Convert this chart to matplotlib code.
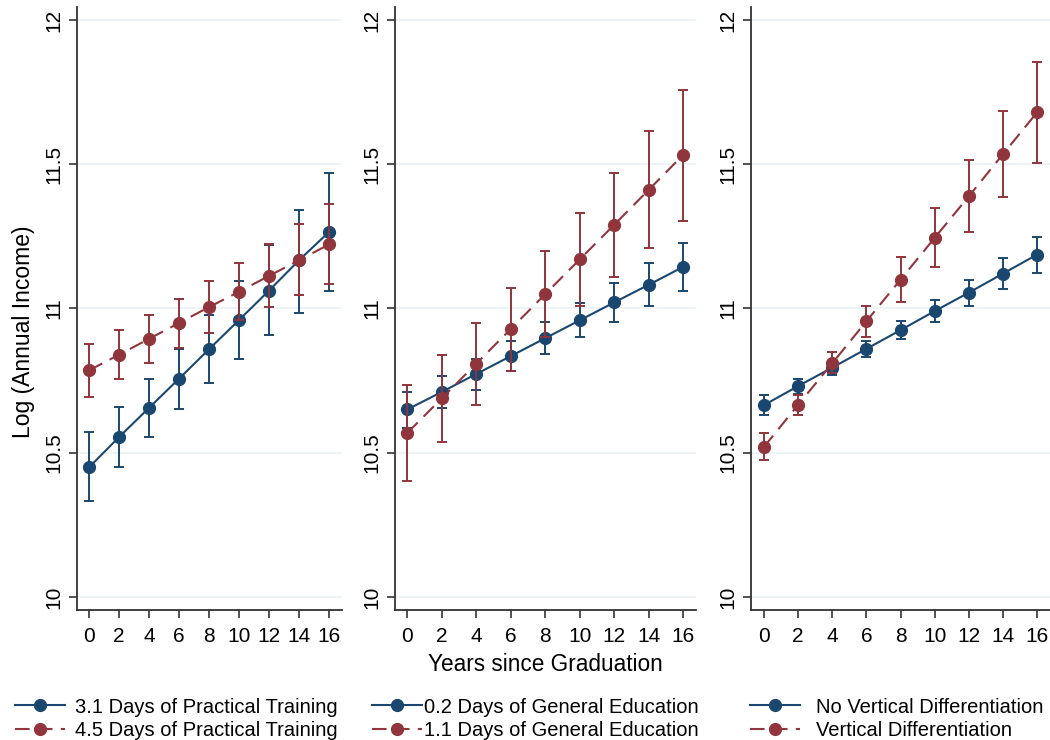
import matplotlib
matplotlib.use('Agg')
import matplotlib.pyplot as plt

plt.rcParams['font.family'] = ['Liberation Sans', 'DejaVu Sans']

years = [0, 2, 4, 6, 8, 10, 12, 14, 16]

# panel 1: practical training
p1_blue = [10.45, 10.555, 10.656, 10.757, 10.859, 10.96, 11.062, 11.167, 11.265]
p1_blue_lo = [10.333, 10.449, 10.556, 10.653, 10.743, 10.826, 10.907, 10.986, 11.062]
p1_blue_hi = [10.573, 10.66, 10.757, 10.861, 10.976, 11.095, 11.22, 11.34, 11.468]
p1_red = [10.786, 10.84, 10.895, 10.95, 11.005, 11.058, 11.113, 11.167, 11.222]
p1_red_lo = [10.693, 10.755, 10.811, 10.864, 10.914, 10.96, 11.005, 11.045, 11.084]
p1_red_hi = [10.876, 10.924, 10.977, 11.034, 11.094, 11.157, 11.222, 11.292, 11.362]

# panel 2: general education
p2_blue = [10.65, 10.711, 10.773, 10.835, 10.897, 10.959, 11.021, 11.082, 11.144]
p2_blue_lo = [10.587, 10.655, 10.719, 10.782, 10.842, 10.9, 10.952, 11.008, 11.062]
p2_blue_hi = [10.709, 10.766, 10.824, 10.888, 10.952, 11.018, 11.087, 11.157, 11.226]
p2_red = [10.569, 10.689, 10.809, 10.929, 11.05, 11.17, 11.29, 11.411, 11.532]
p2_red_lo = [10.402, 10.537, 10.667, 10.784, 10.902, 11.008, 11.11, 11.208, 11.304]
p2_red_hi = [10.736, 10.84, 10.951, 11.071, 11.198, 11.331, 11.47, 11.614, 11.758]

# panel 3: vertical differentiation
p3_blue = [10.665, 10.731, 10.795, 10.86, 10.925, 10.991, 11.055, 11.121, 11.187]
p3_blue_lo = [10.63, 10.705, 10.77, 10.832, 10.895, 10.952, 11.009, 11.067, 11.123]
p3_blue_hi = [10.699, 10.757, 10.818, 10.886, 10.955, 11.028, 11.1, 11.174, 11.248]
p3_red = [10.52, 10.666, 10.81, 10.956, 11.1, 11.245, 11.389, 11.535, 11.68]
p3_red_lo = [10.474, 10.631, 10.775, 10.902, 11.024, 11.144, 11.265, 11.386, 11.504]
p3_red_hi = [10.569, 10.7, 10.848, 11.009, 11.177, 11.347, 11.515, 11.684, 11.855]

labels = [
    ("3.1 Days of Practical Training", "4.5 Days of Practical Training"),
    ("0.2 Days of General Education", "1.1 Days of General Education"),
    ("No Vertical Differentiation", "Vertical Differentiation"),
]

yticks = [10, 10.5, 11, 11.5, 12]
ytick_labels = ["10", "10.5", "11", "11.5", "12"]

NAVY = '#1a476f'
MAROON = '#90353b'
GRID = '#eaf2f3'

fig = plt.figure(figsize=(10.5, 7.4), dpi=100)

posiciones = [
    [0.0733, 0.1757, 0.2524, 0.8149],
    [0.3762, 0.1757, 0.2867, 0.8149],
    [0.7152, 0.1757, 0.2848, 0.8149],
]
xlims = [(-0.82, 16.87), (-0.72, 16.75), (-0.76, 16.75)]
paneles = [
    (p1_blue, p1_blue_lo, p1_blue_hi, p1_red, p1_red_lo, p1_red_hi),
    (p2_blue, p2_blue_lo, p2_blue_hi, p2_red, p2_red_lo, p2_red_hi),
    (p3_blue, p3_blue_lo, p3_blue_hi, p3_red, p3_red_lo, p3_red_hi),
]
legend_x = [0.0143, 0.354, 0.714]
legend_pad = [0.5, 0.1, 0.8]

for i, datos in enumerate(paneles):
    b, blo, bhi, r, rlo, rhi = datos
    ax = fig.add_axes(posiciones[i])
    for yv in yticks:
        ax.axhline(yv, color=GRID, lw=1.2, zorder=0)

    b_err = [[m - lo for m, lo in zip(b, blo)], [hi - m for m, hi in zip(b, bhi)]]
    r_err = [[m - lo for m, lo in zip(r, rlo)], [hi - m for m, hi in zip(r, rhi)]]

    ax.errorbar(years, b, yerr=b_err, fmt='none', ecolor=NAVY, elinewidth=1.4,
                capsize=3.8, capthick=1.4, zorder=2)
    hb, = ax.plot(years, b, color=NAVY, lw=1.5, marker='o', markersize=8.5, zorder=3)
    ax.errorbar(years, r, yerr=r_err, fmt='none', ecolor=MAROON, elinewidth=1.4,
                capsize=3.8, capthick=1.4, zorder=4)
    hr, = ax.plot(years, r, color=MAROON, lw=1.5, ls=(0, (7, 4)), marker='o',
                  markersize=8.5, zorder=5)

    ax.set_xlim(*xlims[i])
    ax.set_ylim(9.955, 12.045)
    ax.set_xticks(years)
    ax.set_yticks(yticks)
    ax.set_yticklabels(ytick_labels, rotation=90, va='center')
    ax.tick_params(axis='both', labelsize=15, length=6, width=1.2, color='#333333', pad=4)
    ax.tick_params(axis='x', pad=6)
    for s in ['top', 'right']:
        ax.spines[s].set_visible(False)
    for s in ['left', 'bottom']:
        ax.spines[s].set_color('#333333')
        ax.spines[s].set_linewidth(1.3)

    if i == 0:
        ax.set_ylabel('Log (Annual Income)', fontsize=16.5)
        ax.yaxis.set_label_coords(-0.16, 0.461)
    if i == 1:
        ax.set_xlabel('Years since Graduation', fontsize=16.3, labelpad=5)

    fig.legend([hb, hr], list(labels[i]), loc='upper left',
               bbox_to_anchor=(legend_x[i], 0.0574), frameon=False, fontsize=14.5,
               handlelength=2.5, handletextpad=legend_pad[i], labelspacing=0.2,
               borderaxespad=0, borderpad=0)

fig.savefig('out.png', dpi=100)
